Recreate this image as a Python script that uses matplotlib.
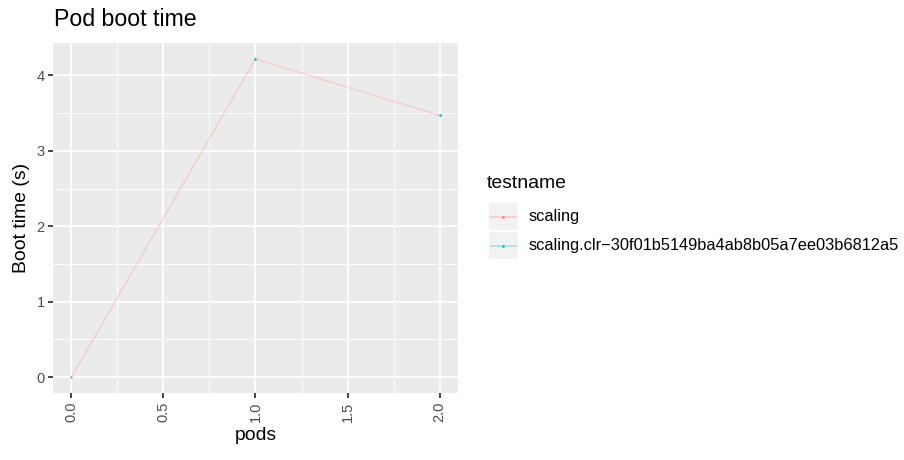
import matplotlib
matplotlib.use("Agg")
import matplotlib.pyplot as plt
from matplotlib.patches import Rectangle
from matplotlib.lines import Line2D

# data
pods = [0, 1, 2]
scaling = [0.0, 4.22, 3.47]
clr_pods = [1, 2]
clr_boot = [4.22, 3.47]
series_names = ["scaling", "scaling.clr\u221230f01b5149ba4ab8b05a7ee03b6812a5"]
series_colors = ["#F8766D", "#00BFC4"]
xticks = [0.0, 0.5, 1.0, 1.5, 2.0]
yticks = [0, 1, 2, 3, 4]

DPI = 120
W, H = 904, 460
fig = plt.figure(figsize=(W / DPI, H / DPI), dpi=DPI)
plt.rcParams['font.family'] = ['Liberation Sans', 'DejaVu Sans']

# panel placement in pixels (left, top, right, bottom)
L, T, R, B = 53, 43, 458, 393
ax = fig.add_axes([L / W, 1 - B / H, (R - L) / W, (B - T) / H])
ax.set_facecolor("#EBEBEB")
for s in ax.spines.values():
    s.set_visible(False)

# ggplot-ish grid
lw_major = 1.07
ax.set_xticks(xticks)
ax.set_yticks(yticks)
ax.set_xticks([0.25, 0.75, 1.25, 1.75], minor=True)
ax.set_yticks([0.5, 1.5, 2.5, 3.5], minor=True)
ax.grid(True, which="major", color="white", linewidth=lw_major)
ax.grid(True, which="minor", color="white", linewidth=lw_major / 2)
ax.set_axisbelow(True)

ax.plot(pods, scaling, color=series_colors[0], alpha=0.2, linewidth=lw_major,
        marker="o", markersize=1.3, markeredgewidth=0, zorder=3)
ax.plot(pods[:1], scaling[:1], "o", color="#999999", markersize=1.3,
        markeredgewidth=0, zorder=4)
ax.plot(clr_pods, clr_boot, "o", color=series_colors[1], markersize=1.6,
        markeredgewidth=0, zorder=4)

ax.set_xlim(-0.1, 2.1)
ax.set_ylim(-0.211, 4.431)

ax.tick_params(which="major", length=2.75, width=lw_major, color="#333333",
               labelcolor="#4D4D4D", labelsize=8.8, pad=2.2)
ax.tick_params(which="minor", length=0)
ax.set_xticklabels([f"{v:.1f}" for v in xticks], rotation=90, va="top")
ax.set_yticklabels([str(v) for v in yticks])

ax.set_xlabel("pods", fontsize=11.6, labelpad=3)
ax.set_ylabel("Boot time (s)", fontsize=11.6, labelpad=4)

fig.text(54 / W, 1 - 20 / H, "Pod boot time", fontsize=13.9, ha="left", va="center")

# legend, drawn ggplot style
fig.text(487 / W, 1 - 183 / H, "testname", fontsize=11.6, ha="left", va="center")
key_top = 202
key_h = 29
for i, (name, col) in enumerate(zip(series_names, series_colors)):
    y0 = key_top + i * key_h
    fig.patches.append(Rectangle((489 / W, 1 - (y0 + key_h - 1) / H), 29 / W, (key_h - 2) / H,
                                 transform=fig.transFigure, facecolor="#F2F2F2",
                                 edgecolor="none"))
    yc = 1 - (y0 + key_h / 2) / H
    fig.lines.append(Line2D([491 / W, 516 / W], [yc, yc], transform=fig.transFigure,
                            color=col, alpha=0.3, linewidth=lw_major))
    fig.lines.append(Line2D([503.5 / W], [yc], transform=fig.transFigure, marker="o",
                            color=col, markersize=1.6, markeredgewidth=0))
    fig.text(529 / W, yc, name, fontsize=9.8, ha="left", va="center")

fig.savefig("out.png", dpi=DPI)
